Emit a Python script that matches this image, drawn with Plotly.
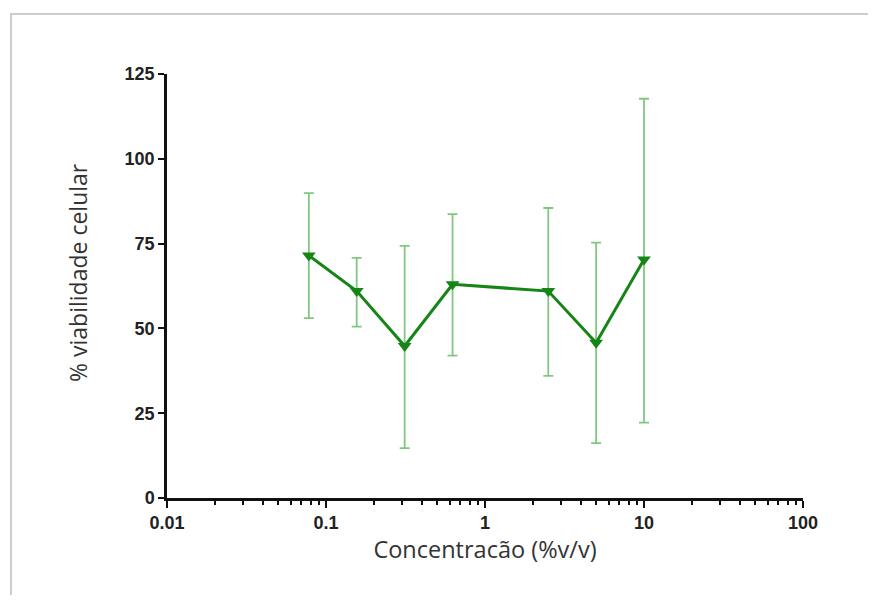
import plotly.graph_objects as go

conc = [0.078, 0.156, 0.3125, 0.625, 2.5, 5, 10]
viab = [71.5, 61.0, 44.8, 63.0, 61.0, 45.8, 70.3]
err_hi = [89.9, 70.8, 74.3, 83.7, 85.5, 75.3, 117.7]
err_lo = [53.0, 50.5, 14.7, 42.0, 36.0, 16.2, 22.2]

x_major = [0.01, 0.1, 1, 10, 100]
x_major_labels = ["0.01", "0.1", "1", "10", "100"]
y_ticks = [0, 25, 50, 75, 100, 125]

plus = [h - v for h, v in zip(err_hi, viab)]
minus = [v - l for v, l in zip(viab, err_lo)]

x_minor = [m * d for d in [0.01, 0.1, 1, 10] for m in range(2, 10)]

fig = go.Figure()
fig.add_trace(go.Scatter(
    x=conc, y=viab, mode="lines+markers",
    line=dict(color="#158515", width=3),
    marker=dict(symbol="triangle-down", size=12, color="#158515"),
    error_y=dict(type="data", symmetric=False, array=plus, arrayminus=minus,
                 color="rgba(60,170,60,0.65)", thickness=1.8, width=5),
    showlegend=False,
))

fig.update_layout(
    width=860, height=587,
    margin=dict(l=159, r=65, t=66, b=97),
    paper_bgcolor="white", plot_bgcolor="white",
    font=dict(family="Liberation Sans, Arial, sans-serif", color="#222"),
    xaxis=dict(
        type="log", range=[-2, 2],
        tickmode="array", tickvals=x_major, ticktext=x_major_labels,
        ticks="outside", ticklen=7, tickwidth=2, tickcolor="#111",
        showline=True, linecolor="#111", linewidth=2.5,
        showgrid=False, zeroline=False,
        tickfont=dict(size=18, weight="bold", color="#222"),
        minor=dict(tickmode="array", tickvals=x_minor, ticks="outside",
                   ticklen=4, tickwidth=2, tickcolor="#111", showgrid=False),
        title=dict(text="Concentracão (%v/v)", font=dict(size=23.5, color="#333",
                   family="Open Sans, sans-serif"), standoff=8),
    ),
    yaxis=dict(
        range=[0, 125], tickmode="array", tickvals=y_ticks,
        ticks="outside", ticklen=6, tickwidth=2, tickcolor="#111",
        showline=True, linecolor="#111", linewidth=2.5,
        showgrid=False, zeroline=False,
        tickfont=dict(size=18, weight="bold", color="#222"),
    ),
    annotations=[dict(text="% viabilidade celular", textangle=-90,
                      xref="paper", yref="paper", x=-0.14, y=0.533,
                      xanchor="center", yanchor="middle", showarrow=False,
                      font=dict(size=23, color="#333", family="Open Sans, sans-serif"))],
    shapes=[dict(type="rect", xref="paper", yref="paper",
                 x0=-0.2453, x1=1.5, y0=-0.5, y1=1.1415,
                 line=dict(color="#cccccc", width=2), layer="below")],
)

fig.write_html("out.html")
